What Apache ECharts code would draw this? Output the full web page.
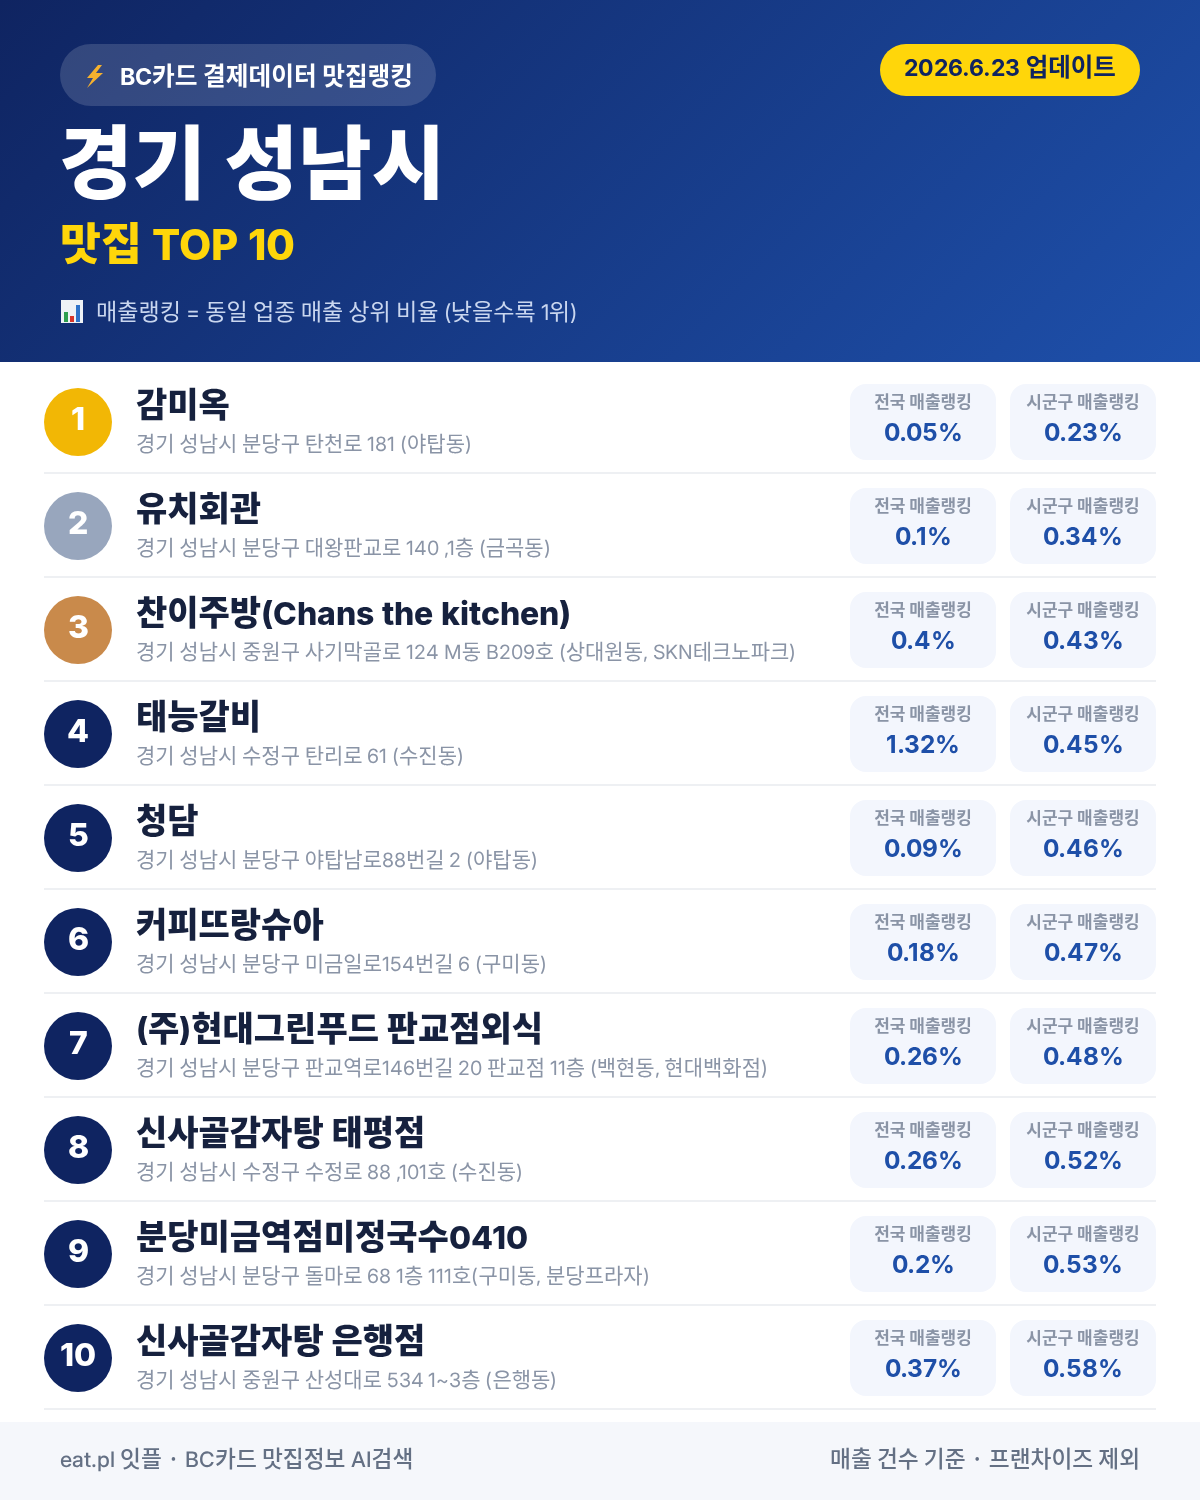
<!DOCTYPE html>
<html><head><meta charset="utf-8">
<style>html,body{margin:0;padding:0;background:#fff}#c{width:1200px;height:1500px}
@font-face{font-family:LatinTight;src:local("Inter Regular"),local("Inter");font-weight:400;size-adjust:94%;unicode-range:U+21-7E}
@font-face{font-family:LatinTight;src:local("Inter Medium");font-weight:500;size-adjust:94%;unicode-range:U+21-7E}
@font-face{font-family:LatinTight;src:local("Inter Bold");font-weight:700;size-adjust:94%;unicode-range:U+21-7E}
@font-face{font-family:LatinTight;src:local("Inter ExtraBold"),local("Inter Extra Bold");font-weight:800;size-adjust:94%;unicode-range:U+21-7E}
</style>
<script src="https://cdn.jsdelivr.net/npm/echarts@6/dist/echarts.min.js"></script>
</head><body><div id="c"></div>
<script>
const FONT='LatinTight,"Noto Sans CJK KR",sans-serif';
const ranks=['1','2','3','4','5','6','7','8','9','10'];
const names=['감미옥','유치회관','찬이주방(Chans the kitchen)','태능갈비','청담','커피뜨랑슈아','(주)현대그린푸드 판교점외식','신사골감자탕 태평점','분당미금역점미정국수0410','신사골감자탕 은행점'];
const addresses=['경기 성남시 분당구 탄천로 181 (야탑동)','경기 성남시 분당구 대왕판교로 140 ,1층 (금곡동)','경기 성남시 중원구 사기막골로 124 M동 B209호 (상대원동, SKN테크노파크)','경기 성남시 수정구 탄리로 61 (수진동)','경기 성남시 분당구 야탑남로88번길 2 (야탑동)','경기 성남시 분당구 미금일로154번길 6 (구미동)','경기 성남시 분당구 판교역로146번길 20 판교점 11층 (백현동, 현대백화점)','경기 성남시 수정구 수정로 88 ,101호 (수진동)','경기 성남시 분당구 돌마로 68 1층 111호(구미동, 분당프라자)','경기 성남시 중원구 산성대로 534 1~3층 (은행동)'];
const nationalRank=[0.05,0.1,0.4,1.32,0.09,0.18,0.26,0.26,0.2,0.37];
const localRank=[0.23,0.34,0.43,0.45,0.46,0.47,0.48,0.52,0.53,0.58];
const nationalLabel='전국 매출랭킹';
const localLabel='시군구 매출랭킹';
const badgeColors=['#f2b705','#98a6bd','#c98a4b','#0f2461'];

function text(x,y,t,size,weight,fill,align){
  return {type:'text',style:{x,y,text:t,font:`${weight} ${size}px ${FONT}`,fill,align:align||'left',verticalAlign:'middle'}};
}
function renderItem(params,api){
  const i=api.value(0);
  const cy=api.coord([0,i])[1];
  const band=api.size([0,1])[1];
  const col=i<3?badgeColors[i]:badgeColors[3];
  const statBox=(x,label,val)=>[
    {type:'rect',shape:{x,y:cy-38,width:146,height:76,r:16},style:{fill:'#f3f6fd'}},
    text(x+73,cy-20,label,17,700,'#8a94a6','center'),
    text(x+73,cy+9,val+'%',26,700,'#1e4fa8','center')
  ];
  return {type:'group',children:[
    {type:'rect',shape:{x:44,y:cy+band/2-2,width:1112,height:2},style:{fill:'#eef0f3'}},
    {type:'circle',shape:{cx:78,cy,r:34},style:{fill:col}},
    text(78,cy-5,ranks[i],34,800,'#fff','center'),
    text(136,cy-18,names[i],34,800,'#16213e'),
    text(136,cy+21,addresses[i],21,400,'#8a94a6')
  ].concat(statBox(850,nationalLabel,api.value(1)),statBox(1010,localLabel,api.value(2)))};
}
function draw(){
const chart=echarts.init(document.getElementById('c'),null,{renderer:'canvas',width:1200,height:1500});
chart.setOption({
  animation:false,
  grid:{left:0,top:370,width:1200,height:1040},
  xAxis:{type:'value',min:0,max:1200,show:false},
  yAxis:{type:'category',data:names,inverse:true,show:false},
  graphic:[
    {type:'rect',z:-1,shape:{x:0,y:0,width:1200,height:362},style:{fill:new echarts.graphic.LinearGradient(209.5,-209.5,990.5,571.5,[{offset:0,color:'#0f2461'},{offset:1,color:'#1e50ab'}],true)}},
    {type:'rect',shape:{x:60,y:44,width:376,height:62,r:31},style:{fill:'rgba(255,255,255,0.15)'}},
    {type:'polygon',shape:{points:[[98,65],[87,78],[93,78],[87,88],[103,73],[96,73],[102,65]]},style:{fill:'#f6b12e'}},
    text(120,76,'BC카드 결제데이터 맛집랭킹',24.7,700,'#fff'),
    {type:'rect',shape:{x:880,y:44,width:260,height:52,r:26},style:{fill:'#ffd60a'}},
    text(1010,67,'2026.6.23 업데이트',24.5,700,'#0f2461','center'),
    text(59,162,'경기 성남시',80,900,'#fff'),
    text(60,243,'맛집 TOP 10',44.5,800,'#ffd60a'),
    {type:'rect',shape:{x:61,y:300,width:22,height:23},style:{fill:'#eef2f6'}},
    {type:'rect',shape:{x:64,y:312,width:4,height:10},style:{fill:'#2e9e4f'}},
    {type:'rect',shape:{x:70,y:316,width:4,height:6},style:{fill:'#d8362a'}},
    {type:'rect',shape:{x:76,y:305,width:4,height:17},style:{fill:'#2e72c8'}},
    text(96,311,'매출랭킹 = 동일 업종 매출 상위 비율 (낮을수록 1위)',23.1,400,'#c9d6ef'),
    {type:'rect',shape:{x:0,y:1422,width:1200,height:78},style:{fill:'#f5f7fb'}},
    text(60,1458,'eat.pl 잇플 · BC카드 맛집정보 AI검색',22.7,500,'#647084'),
    text(1140,1458,'매출 건수 기준 · 프랜차이즈 제외',22.7,500,'#647084','right')
  ],
  series:[{type:'custom',coordinateSystem:'cartesian2d',clip:false,renderItem,
    encode:{x:1,y:0},
    data:names.map((n,i)=>[i,nationalRank[i],localRank[i]])}]
});
}
Promise.all([400,500,700,800].map(w=>document.fonts.load(w+' 20px LatinTight','Aa1'))).then(draw,draw);
</script></body></html>
